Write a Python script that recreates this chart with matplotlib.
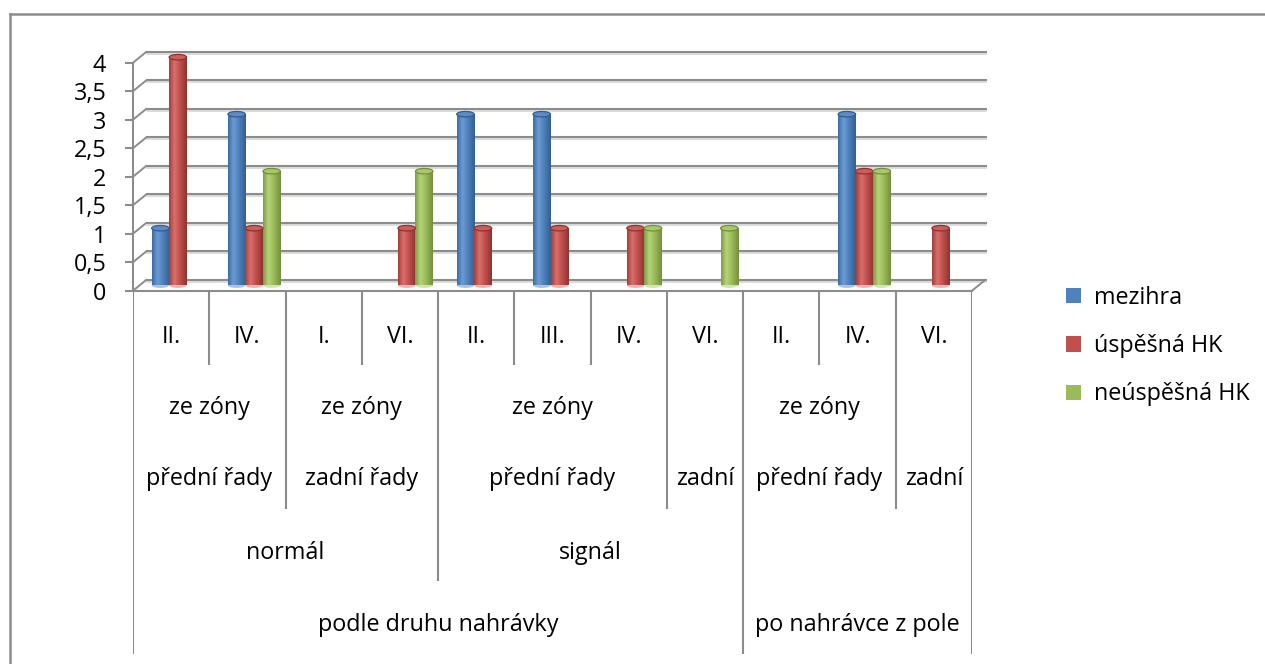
import numpy as np
import matplotlib
matplotlib.use('Agg')
import matplotlib.pyplot as plt
from matplotlib.colors import LinearSegmentedColormap
from matplotlib.patches import Ellipse, ConnectionPatch
from matplotlib.lines import Line2D
from matplotlib.transforms import offset_copy
from matplotlib.ticker import FuncFormatter

plt.rcParams['font.family'] = ['Open Sans', 'DejaVu Sans']

# Osa kategorií - čtyři úrovně
zony = ["II.", "IV.", "I.", "VI.", "II.", "III.", "IV.", "VI.", "II.", "IV.", "VI."]
rady = [("ze zóny", "přední řady", 0, 2), ("ze zóny", "zadní řady", 2, 4),
        ("ze zóny", "přední řady", 4, 7), ("", "zadní", 7, 8),
        ("ze zóny", "přední řady", 8, 10), ("", "zadní", 10, 11)]
hra = [("normál", 0, 4), ("signál", 4, 8), ("", 8, 11)]
nahravka = [("podle druhu nahrávky", 0, 8), ("po nahrávce z pole", 8, 11)]

# Série
serie = ["mezihra", "úspěšná HK", "neúspěšná HK"]
mezihra = [1, 3, 0, 0, 3, 3, 0, 0, 0, 3, 0]
uspesna = [4, 1, 0, 1, 1, 1, 1, 0, 0, 2, 1]
neuspesna = [0, 2, 0, 2, 0, 0, 1, 1, 0, 2, 0]
hodnoty = [mezihra, uspesna, neuspesna]
yticks = [0, 0.5, 1, 1.5, 2, 2.5, 3, 3.5, 4]

# barvy válců: přechod zleva doprava, horní plocha, okraj, odlesk pod válcem
barvy = [
    dict(base='#4F81BD', grad=['#3D6CA3', '#6C9BD4', '#4F81BD', '#34608F'],
         top='#5B8BC8', rim='#345E8F', glow='#A9C3E6'),
    dict(base='#C0504D', grad=['#A23F3C', '#D9706B', '#C0504D', '#8E3331'],
         top='#CD5D59', rim='#8E3331', glow='#EFB2B0'),
    dict(base='#9BBB59', grad=['#7D9C44', '#B6D479', '#9BBB59', '#738F3D'],
         top='#A8C86A', rim='#738F3D', glow='#D3E4B3'),
]

SEDA = '#8C8C8C'
FS = 16.8
W, H = 1265, 664
n = len(zony)

fig = plt.figure(figsize=(W / 100, H / 100), dpi=100)

# přední rovina grafu (v pixelech)
x0, x1 = 133, 972
ytop, ybot = 62.7, 290.7
DX, DY = 13.5, 11  # hloubka 3D
ax = fig.add_axes([x0 / W, 1 - ybot / H, (x1 - x0) / W, (ybot - ytop) / H])
ax.set_autoscale_on(False)
ax.set_xlim(0, n)
ax.set_ylim(0, 4)
ax.patch.set_visible(False)

back = offset_copy(ax.transData, fig=fig, x=DX, y=DY, units='dots')
back_sh = offset_copy(ax.transData, fig=fig, x=DX, y=DY - 1.8, units='dots')
mid = offset_copy(ax.transData, fig=fig, x=DX / 2, y=DY / 2, units='dots')

# zadní stěna - mřížka
for v in yticks:
    ax.plot([0, n], [v, v], transform=back_sh, color='#D6D6D6', lw=1.2, clip_on=False, zorder=1)
    ax.plot([0, n], [v, v], transform=back, color=SEDA, lw=1.5, clip_on=False, zorder=1)
    ax.add_artist(ConnectionPatch((0, v), (0, v), coordsA=ax.transData, coordsB=back,
                                  color=SEDA, lw=1.4, zorder=1))
ax.add_artist(ConnectionPatch((n, 0), (n, 0), coordsA=ax.transData, coordsB=back,
                              color=SEDA, lw=1.4, zorder=1))

# osy
for s in ['top', 'right']:
    ax.spines[s].set_visible(False)
for s in ['left', 'bottom']:
    ax.spines[s].set_color(SEDA)
    ax.spines[s].set_linewidth(1.5)
ax.set_xticks([])
ax.set_yticks(yticks)
ax.yaxis.set_major_formatter(FuncFormatter(lambda v, _: f"{v:g}".replace('.', ',')))
ax.tick_params(axis='y', length=5.8, width=1.5, color=SEDA, pad=13.5, labelsize=FS)

# válcové sloupce
w = 17.5 / ((x1 - x0) / n)
eh = 5.5 / ((ybot - ytop) / 4)
grad = np.linspace(0, 1, 64).reshape(1, -1)
kontejnery = []
for j, (vals, c) in enumerate(zip(hodnoty, barvy)):
    xs = np.arange(n) + 0.5 + (j - 1) * w
    cont = ax.bar(xs, vals, width=w, color=c['base'], transform=mid, zorder=3,
                  clip_on=False, label=serie[j])
    kontejnery.append(cont)
    cmap = LinearSegmentedColormap.from_list('valec%d' % j,
                                             list(zip([0, 0.3, 0.6, 1], c['grad'])))
    for p, v in zip(cont.patches, vals):
        if v <= 0:
            continue
        bx, bw = p.get_x(), p.get_width()
        ax.add_patch(Ellipse((bx + bw / 2, 0), bw, eh, transform=mid, facecolor=c['glow'],
                             edgecolor='none', zorder=2.9, clip_on=False))
        im = ax.imshow(grad, cmap=cmap, extent=(bx, bx + bw, 0, v), aspect='auto',
                       transform=mid, zorder=3.1, interpolation='bilinear')
        im.set_clip_path(p)
        ax.add_patch(Ellipse((bx + bw / 2, v), bw, eh, transform=mid, facecolor=c['top'],
                             edgecolor=c['rim'], lw=0.9, zorder=3.2, clip_on=False))

# tabulka popisků kategorií pod grafem
tab = fig.add_axes([x0 / W, 0, (x1 - x0) / W, (H - ybot) / H])
tab.set_xlim(0, n)
tab.set_ylim(H - ybot, 0)
tab.axis('off')

hloubka = {k: 74 for k in range(n + 1)}
for _, _, a, b in rady:
    for k in (a, b):
        hloubka[k] = max(hloubka[k], 218)
for _, a, b in hra:
    for k in (a, b):
        hloubka[k] = max(hloubka[k], 290)
for _, a, b in nahravka:
    for k in (a, b):
        hloubka[k] = max(hloubka[k], 363)
for k, d in hloubka.items():
    tab.plot([k, k], [0, d], color=SEDA, lw=1.5, solid_capstyle='butt')

for i, t in enumerate(zony):
    tab.text(i + 0.5, 46, t, ha='center', va='center', fontsize=FS)
for t1, t2, a, b in rady:
    tab.text((a + b) / 2, 117, t1, ha='center', va='center', fontsize=FS)
    tab.text((a + b) / 2, 188, t2, ha='center', va='center', fontsize=FS)
for t, a, b in hra:
    tab.text((a + b) / 2, 262, t, ha='center', va='center', fontsize=FS)
for t, a, b in nahravka:
    tab.text((a + b) / 2, 334, t, ha='center', va='center', fontsize=FS)

# legenda
fig.legend(handles=kontejnery, labels=serie, loc='center left',
           bbox_to_anchor=(1066 / W, 1 - 346 / H), frameon=False, fontsize=FS,
           handlelength=0.64, handleheight=0.64, handletextpad=0.55,
           labelspacing=1.05, borderpad=0, borderaxespad=0)

# rámeček grafu
fig.add_artist(Line2D([10 / W, 10 / W], [0, 1 - 14 / H], transform=fig.transFigure,
                      color=SEDA, lw=1.8))
fig.add_artist(Line2D([10 / W, 1], [1 - 14 / H, 1 - 14 / H], transform=fig.transFigure,
                      color=SEDA, lw=1.8))

fig.savefig('out.png', dpi=100, facecolor='white')
